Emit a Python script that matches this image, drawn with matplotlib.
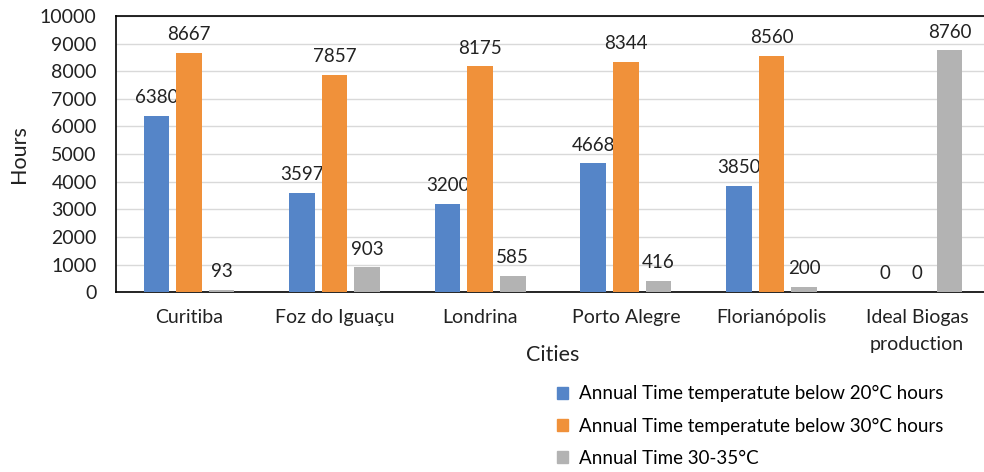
import matplotlib
matplotlib.use('Agg')
from matplotlib import pyplot as plt
from matplotlib.patches import Patch
import numpy as np

cities = ['Curitiba', 'Foz do Iguaçu', 'Londrina', 'Porto Alegre',
          'Florianópolis', 'Ideal Biogas\nproduction']
below_20 = [6380, 3597, 3200, 4668, 3850, 0]
below_30 = [8667, 7857, 8175, 8344, 8560, 0]
between_30_35 = [93, 903, 585, 416, 200, 8760]
series_labels = ['Annual Time temperatute below 20°C hours',
                 'Annual Time temperatute below 30°C hours',
                 'Annual Time 30-35°C']
colors = ['#5585C8', '#F0913A', '#B3B3B3']

plt.rcParams['font.family'] = ['Lato', 'DejaVu Sans']
plt.rcParams['font.size'] = 14

fig = plt.figure(figsize=(9.84, 4.72), dpi=100)
ax = fig.add_axes([0.118, 0.381, 0.888, 0.585])

x_indexes = np.arange(len(cities))
bar_width = 0.175
step = 0.224
for offset, values, color, label in zip([-step, 0, step],
                                        [below_20, below_30, between_30_35],
                                        colors, series_labels):
    bars = ax.bar(x_indexes + offset, values, width=bar_width,
                  color=color, label=label, zorder=3)
    for bar, value in zip(bars, values):
        ax.annotate(str(value), (bar.get_x() + bar.get_width() / 2, value),
                    xytext=(0, 7), textcoords='offset points',
                    ha='center', va='bottom', fontsize=13.5, color='#222222')

ax.set_xlim(-0.5, len(cities) - 0.5)
ax.set_ylim(0, 10000)
ax.set_yticks(np.arange(0, 10001, 1000))
ax.set_xticks(x_indexes)
ax.set_xticklabels(cities, fontsize=14, color='#222222', linespacing=1.75)
ax.tick_params(axis='y', labelsize=14, colors='#222222', length=0, pad=14)
ax.tick_params(axis='x', length=0, pad=12)
ax.grid(axis='y', color='#D9D9D9', linewidth=1, zorder=0)
for spine in ax.spines.values():
    spine.set_color('black')
    spine.set_linewidth(1.2)

ax.set_xlabel('Cities', fontsize=15.5, color='#222222')
ax.xaxis.set_label_coords(0.5, -0.19)
ax.set_ylabel('Hours', fontsize=15.5, labelpad=8, color='#222222')

handles = [Patch(color=c) for c in colors]
fig.legend(handles, series_labels, loc='upper left',
           bbox_to_anchor=(0.566, 0.184), frameon=False, fontsize=13.5,
           handlelength=0.6, handleheight=0.6, handletextpad=0.6,
           labelspacing=0.82, borderaxespad=0, borderpad=0)

plt.savefig('out.png', dpi=100)
